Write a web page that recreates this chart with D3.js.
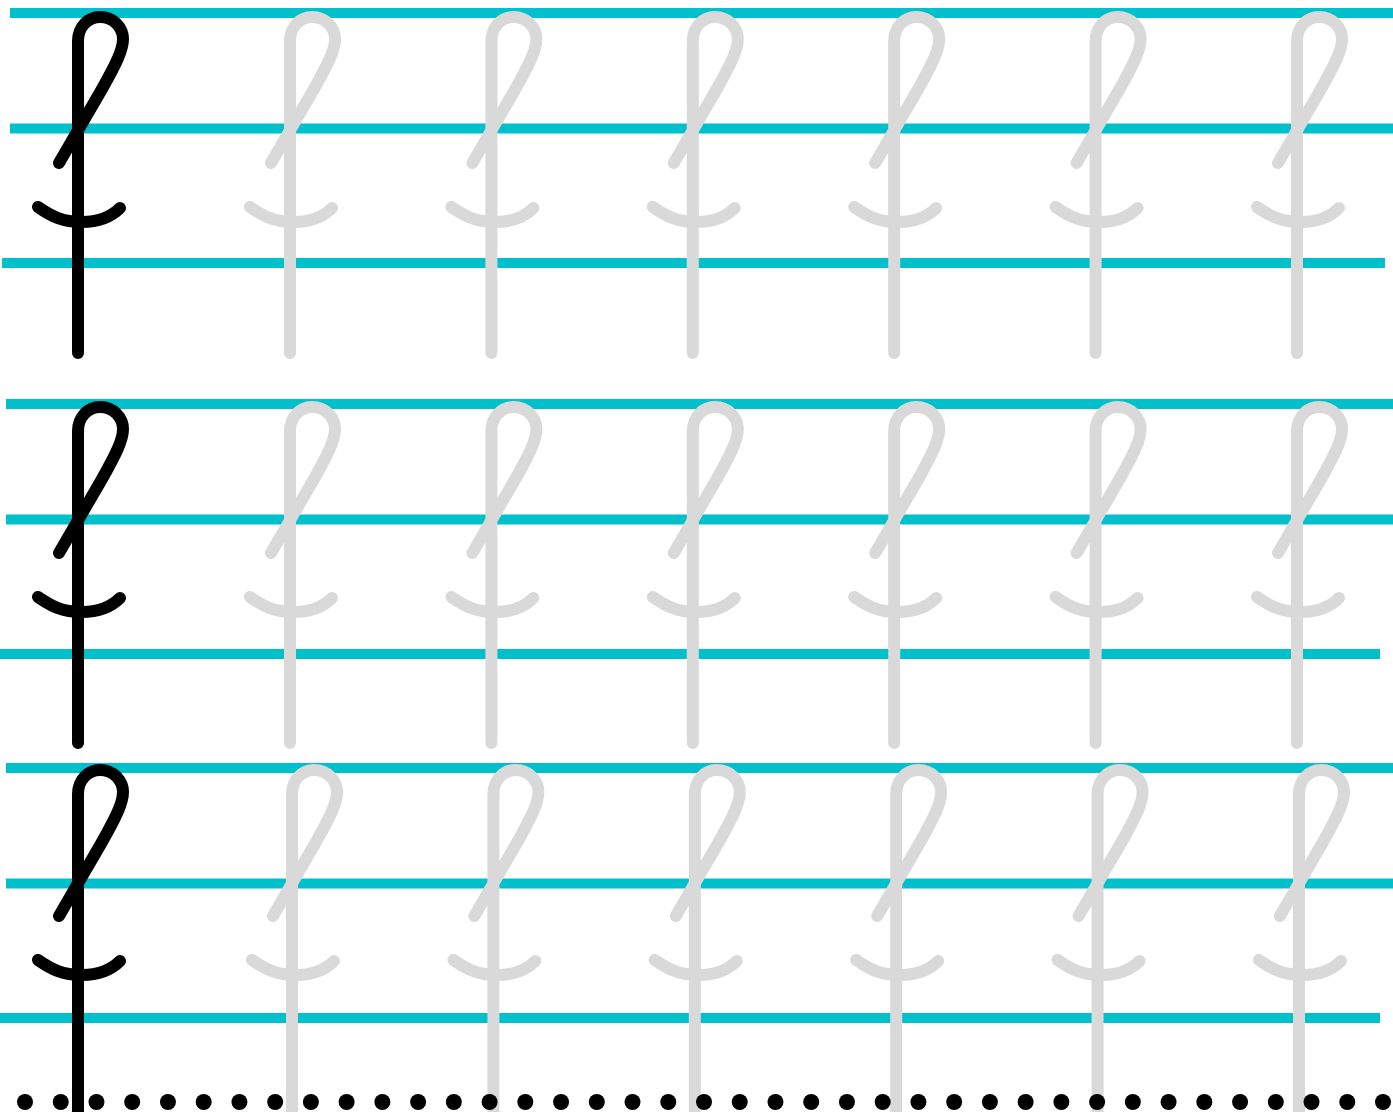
<!DOCTYPE html>
<meta charset="utf-8">
<style>
body { margin: 0; background: #fff; }
svg { display: block; }
.guide { stroke: #00c1cb; stroke-width: 10px; }
.glyph path { fill: none; stroke-width: 12px; stroke-linecap: round; stroke-linejoin: round; }
</style>
<svg width="1393" height="1112"></svg>
<script src="https://cdn.jsdelivr.net/npm/d3@7"></script>
<script>

// worksheet content: 3 practice rows, each with one model letter and six traces
var rows = ["row 1", "row 2", "row 3"];
var cells = ["model", "trace", "trace", "trace", "trace", "trace", "trace"];
var guides = ["top", "mid", "base"];
var dotCount = 39;

var svg = d3.select("svg"),
    width = +svg.attr("width"),
    height = +svg.attr("height");

// layout
var rowTop = {"row 1": 13, "row 2": 404, "row 3": 768},
    guideY = d3.scaleOrdinal().domain(guides).range([0, 115.5, 250]),
    lineStart = {"row 1": [10, 10, 2], "row 2": [6, 6, 0], "row 3": [6, 6, 0]},
    lineEnd = {"row 1": [1400, 1400, 1385], "row 2": [1400, 1400, 1380], "row 3": [1400, 1400, 1380]},
    glyphTop = {"row 1": 17, "row 2": 407, "row 3": 770},
    glyphShift = {"row 1": 0, "row 2": 0, "row 3": 2};

var xTrace = d3.scaleLinear().domain([1, 6]).range([290, 1297]);
function cellX(i) { return i === 0 ? 78 : xTrace(i); }

var xDot = d3.scaleLinear().domain([0, dotCount - 1]).range([25, 1383]);

// cursive f, stem at x=0, loop top at y=0
var glyphPath = "M0,336 V24 C0,10 10,0 22,0 C36,0 45,11 45,22 C45,33 38,47 24,72 L-19,146" +
    "M-40,190 C-27,199 -16,205 4,205 C22,205 33,200 42,191";

var row = svg.selectAll(".row")
  .data(rows)
  .enter().append("g")
    .attr("class", "row");

row.selectAll(".guide")
  .data(function(r) { return guides.map(function(g, i) { return {row: r, guide: g, i: i}; }); })
  .enter().append("line")
    .attr("class", "guide")
    .attr("x1", function(d) { return lineStart[d.row][d.i]; })
    .attr("x2", function(d) { return lineEnd[d.row][d.i]; })
    .attr("y1", function(d) { return rowTop[d.row] + guideY(d.guide); })
    .attr("y2", function(d) { return rowTop[d.row] + guideY(d.guide); });

// dotted line at the bottom
svg.append("g")
  .selectAll("circle")
  .data(d3.range(dotCount))
  .enter().append("circle")
    .attr("cx", function(d) { return xDot(d); })
    .attr("cy", 1102)
    .attr("r", 8)
    .attr("fill", "#000");

row.selectAll(".glyph")
  .data(function(r) { return cells.map(function(c, i) { return {row: r, kind: c, i: i}; }); })
  .enter().append("g")
    .attr("class", "glyph")
    .attr("transform", function(d) {
      var x = cellX(d.i) + (d.i === 0 ? 0 : glyphShift[d.row]);
      return "translate(" + x + "," + glyphTop[d.row] + ")";
    })
  .append("path")
    .attr("d", glyphPath)
    .style("stroke", function(d) { return d.kind === "model" ? "#000" : "#d9d9d9"; });

// last row's stems run past the dots to the page edge
svg.selectAll(".row").filter(function(r) { return r === "row 3"; })
  .selectAll(".glyph path")
    .attr("d", glyphPath.replace("M0,336", "M0,360"));

</script>
